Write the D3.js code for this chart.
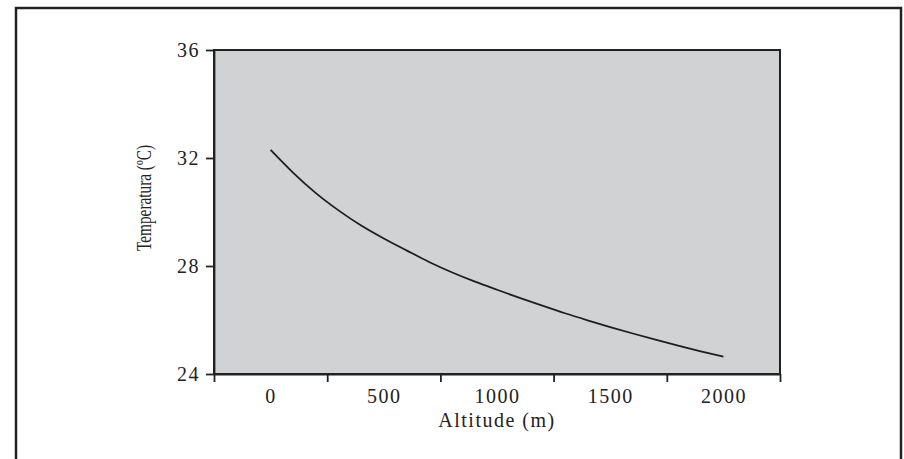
<!DOCTYPE html>
<html>
<head>
<meta charset="utf-8">
<script src="https://cdn.jsdelivr.net/npm/d3@7"></script>
<style>
  body { margin: 0; background: #fff; }
  svg { display: block; }
  text { font-family: "Liberation Serif", "DejaVu Serif", serif; fill: #222; }
</style>
</head>
<body>
<div id="chart"></div>
<script>
// data
const altitude = [0, 100, 200, 300, 400, 500, 600, 700, 800, 900, 1000,
                  1100, 1200, 1300, 1400, 1500, 1600, 1700, 1800, 1900, 2000];
const temperature = [32.30, 31.45, 30.70, 30.06, 29.50, 29.02, 28.58, 28.15, 27.77, 27.43, 27.12,
                     26.82, 26.53, 26.25, 25.99, 25.74, 25.50, 25.27, 25.05, 24.84, 24.64];
const yTicks = [24, 28, 32, 36];
const xLabels = [0, 500, 1000, 1500, 2000];
const xTickMarks = [-250, 250, 750, 1250, 1750, 2250];

const W = 904, H = 459;
const margin = {top: 50, right: 124, bottom: 85, left: 214},
    width = W - margin.left - margin.right,
    height = H - margin.top - margin.bottom;

const svg = d3.select("#chart").append("svg")
    .attr("width", W)
    .attr("height", H);

// outer frame
svg.append("rect")
    .attr("x", 16).attr("y", 8)
    .attr("width", 885).attr("height", 480)
    .attr("fill", "none")
    .attr("stroke", "#222")
    .attr("stroke-width", 2.5);

const g = svg.append("g").attr("transform", `translate(${margin.left},${margin.top})`);

const x = d3.scaleLinear().domain([-250, 2250]).range([0, width]);
const y = d3.scaleLinear().domain([24, 36]).range([height, 0]);

// plot background
g.append("rect")
    .attr("width", width).attr("height", height)
    .attr("fill", "#d1d2d4")
    .attr("stroke", "#222")
    .attr("stroke-width", 2);

// y axis
const yAxis = g.append("g")
    .call(d3.axisLeft(y).tickValues(yTicks).tickSize(8).tickSizeOuter(0).tickPadding(6));
yAxis.selectAll("line, path").attr("stroke", "#222").attr("stroke-width", 1.8);
yAxis.selectAll("text")
    .style("font-size", "20px")
    .style("letter-spacing", "1.5px")
    .attr("dy", "0.34em");

// x axis: tick marks between the labels
const xAxis = g.append("g")
    .attr("transform", `translate(0,${height})`)
    .call(d3.axisBottom(x).tickValues(xTickMarks).tickSize(8).tickSizeOuter(0).tickFormat(""));
xAxis.selectAll("line, path").attr("stroke", "#222").attr("stroke-width", 1.8);

const xLab = g.append("g")
    .attr("transform", `translate(0,${height})`)
    .call(d3.axisBottom(x).tickValues(xLabels).tickSize(0).tickPadding(15).tickFormat(d3.format("d")));
xLab.select(".domain").remove();
xLab.selectAll("text")
    .style("font-size", "20px")
    .style("letter-spacing", "1.5px");

// axis titles
g.append("text")
    .attr("x", width / 2)
    .attr("y", height + 53)
    .attr("text-anchor", "middle")
    .style("font-size", "20px")
    .style("letter-spacing", "1.5px")
    .text("Altitude (m)");

g.append("text")
    .attr("transform", `translate(${144 - margin.left},${198 - margin.top}) rotate(-90)`)
    .attr("text-anchor", "middle")
    .attr("dy", "0.35em")
    .style("font-size", "21px")
    .attr("textLength", 106)
    .attr("lengthAdjust", "spacingAndGlyphs")
    .text("Temperatura (ºC)");

// curve
const line = d3.line()
    .x((d, i) => x(altitude[i]))
    .y(d => y(d))
    .curve(d3.curveMonotoneX);

g.append("path")
    .datum(temperature)
    .attr("fill", "none")
    .attr("stroke", "#1e1e1e")
    .attr("stroke-width", 1.8)
    .attr("d", line);
</script>
</body>
</html>
